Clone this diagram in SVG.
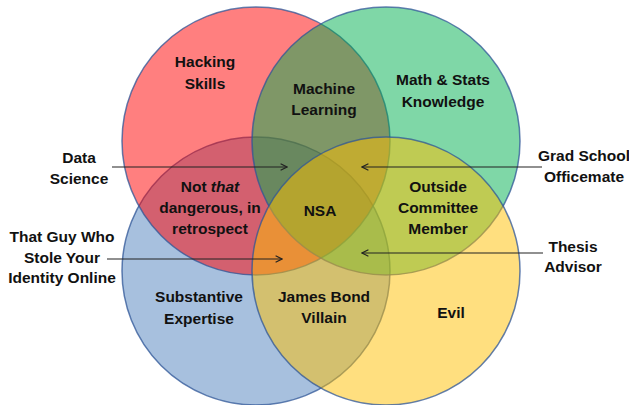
<svg xmlns="http://www.w3.org/2000/svg" width="629" height="405" viewBox="0 0 629 405">
<defs>
<style>
.c{fill-opacity:0.5;stroke:#2F5597;stroke-opacity:0.75;stroke-width:1.5}
text{font-family:"Liberation Sans",Arial,sans-serif;font-weight:bold;font-size:15.5px;fill:#111;text-anchor:middle}
.ln{stroke:#222;stroke-width:1.2;fill:none}
</style>
<marker id="ah" viewBox="0 0 10 10" refX="9" refY="5" markerWidth="8" markerHeight="8" markerUnits="userSpaceOnUse" orient="auto">
<path d="M1,1 L9,5 L1,9" fill="none" stroke="#222" stroke-width="1.4"/>
</marker>
</defs>
<rect width="629" height="405" fill="#fff"/>
<g id="circles">
<circle id="substantive" class="c" cx="256" cy="271" r="134" fill="#4F81BD"/>
<circle id="hacking" class="c" cx="256" cy="141" r="134" fill="#FF0000"/>
<circle id="math" class="c" cx="386" cy="141" r="134" fill="#00B050"/>
<circle id="evil" class="c" cx="386" cy="271" r="134" fill="#FFC000"/>
</g>
<g id="node-hacking"><text x="205" y="67">Hacking</text><text x="205" y="89">Skills</text></g>
<g id="node-ml"><text x="324" y="94">Machine</text><text x="324" y="115">Learning</text></g>
<g id="node-math"><text x="443" y="85">Math &amp; Stats</text><text x="443" y="107">Knowledge</text></g>
<g id="node-notthat"><text x="210" y="192">Not <tspan font-style="italic">that</tspan></text><text x="210" y="213">dangerous, in</text><text x="210" y="234">retrospect</text></g>
<g id="node-nsa"><text x="320" y="216">NSA</text></g>
<g id="node-outside"><text x="438" y="192">Outside</text><text x="438" y="213">Committee</text><text x="438" y="234">Member</text></g>
<g id="node-substantive"><text x="199" y="302">Substantive</text><text x="199" y="324">Expertise</text></g>
<g id="node-bond"><text x="324" y="302">James Bond</text><text x="324" y="323">Villain</text></g>
<g id="node-evil"><text x="451" y="318">Evil</text></g>
<g id="node-ds"><text x="79" y="163">Data</text><text x="79" y="184">Science</text></g>
<g id="node-guy"><text x="62" y="242">That Guy Who</text><text x="62" y="263">Stole Your</text><text x="62" y="283">Identity Online</text></g>
<g id="node-grad"><text x="584" y="161" font-size="14.5">Grad School</text><text x="584" y="182">Officemate</text></g>
<g id="node-thesis"><text x="573" y="252">Thesis</text><text x="573" y="272">Advisor</text></g>
<g id="connectors">
<line class="ln" x1="112" y1="167" x2="287" y2="167" marker-end="url(#ah)"/>
<line class="ln" x1="107" y1="259" x2="282" y2="259" marker-end="url(#ah)"/>
<line class="ln" x1="542" y1="167" x2="362" y2="167" marker-end="url(#ah)"/>
<line class="ln" x1="543" y1="253" x2="362" y2="253" marker-end="url(#ah)"/>
</g>
</svg>
